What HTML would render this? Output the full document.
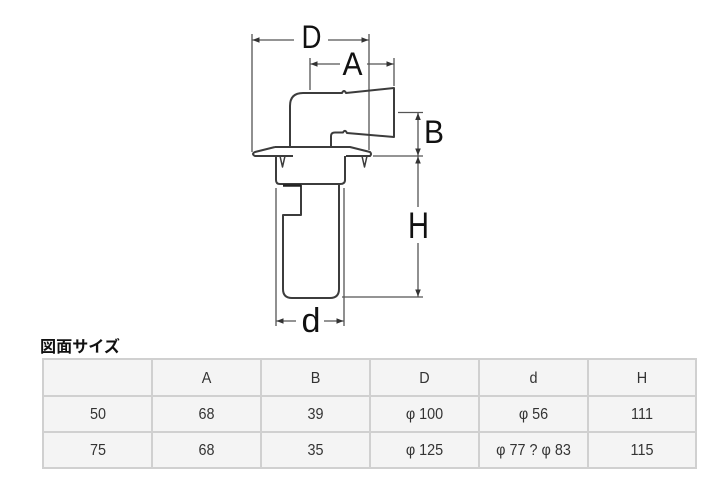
<!DOCTYPE html>
<html><head><meta charset="utf-8"><style>
html,body{margin:0;padding:0;background:#fff;}
svg{display:block;}
</style></head><body>
<svg width="720" height="496" viewBox="0 0 720 496" xmlns="http://www.w3.org/2000/svg">
<defs>
<marker id="ar" viewBox="0 0 10 10" refX="10" refY="5" markerWidth="7" markerHeight="7" orient="auto-start-reverse" markerUnits="userSpaceOnUse">
<path d="M0,1 L10,5 L0,9 z" fill="#333"/>
</marker>
</defs>
<g fill="none" stroke="#555" stroke-width="1.3">
<!-- D -->
<line x1="252" y1="34" x2="252" y2="152"/>
<line x1="369" y1="34" x2="369" y2="150"/>
<line x1="294" y1="40" x2="252.5" y2="40" marker-end="url(#ar)"/>
<line x1="328" y1="40" x2="368.5" y2="40" marker-end="url(#ar)"/>
<!-- A -->
<line x1="310" y1="58" x2="310" y2="90"/>
<line x1="394" y1="58" x2="394" y2="86"/>
<line x1="340" y1="64" x2="310.5" y2="64" marker-end="url(#ar)"/>
<line x1="367" y1="64" x2="393.5" y2="64" marker-end="url(#ar)"/>
<!-- B -->
<line x1="398" y1="112.5" x2="423" y2="112.5"/>
<line x1="373" y1="156" x2="423" y2="156"/>
<line x1="418" y1="134" x2="418" y2="113" marker-end="url(#ar)"/>
<line x1="418" y1="134" x2="418" y2="155.5" marker-end="url(#ar)"/>
<!-- H -->
<line x1="418" y1="207" x2="418" y2="156.5" marker-end="url(#ar)"/>
<line x1="418" y1="243" x2="418" y2="296.5" marker-end="url(#ar)"/>
<line x1="342" y1="297" x2="423" y2="297"/>
<!-- d -->
<line x1="276" y1="188" x2="276" y2="326"/>
<line x1="344" y1="188" x2="344" y2="326"/>
<line x1="296" y1="321" x2="276.5" y2="321" marker-end="url(#ar)"/>
<line x1="324" y1="321" x2="343.5" y2="321" marker-end="url(#ar)"/>
</g>
<g fill="none" stroke="#3c3c3c" stroke-width="2" stroke-linejoin="round">
<!-- elbow outer -->
<path d="M290,147 L290,106 Q290,93 303,93 L342,93 Q344,89 346,93 L394,88 L394,137 L347,133 Q345,129 343,132.5 L335,132.5 Q331,132.5 331,136 L331,147"/>
<!-- flange -->
<path d="M275,147 L350,147 L370,152 Q372,154 370,156 L346,156"/>
<path d="M275,147 L255,152 Q251,154 255,156 L293,156"/>
<!-- socket body -->
<path d="M276,156 L276,180 Q276,184 280,184 L340,184 Q345,184 345,180 L345,156"/>
<!-- barbs -->
<path d="M280,156 L282.5,167 L285,156" stroke-width="1.5"/>
<path d="M362,156 L364.5,167 L367,156" stroke-width="1.5"/>
<!-- inner pipe -->
<path d="M301,185 L301,215 L283,215 L283,289 Q283,298 292,298 L330,298 Q339,298 339,289 L339,185"/>
<line x1="283" y1="185.5" x2="301" y2="185.5" stroke-width="2.5" stroke="#222"/>
</g>
<g font-family="'Liberation Sans', sans-serif" fill="#111">
<text x="311.5" y="48" font-size="32" text-anchor="middle" textLength="20" lengthAdjust="spacingAndGlyphs">D</text>
<text x="352.5" y="75" font-size="32" text-anchor="middle" textLength="20" lengthAdjust="spacingAndGlyphs">A</text>
<text x="434" y="143" font-size="32" text-anchor="middle" textLength="20" lengthAdjust="spacingAndGlyphs">B</text>
<text x="418.5" y="238" font-size="37" text-anchor="middle" textLength="21" lengthAdjust="spacingAndGlyphs">H</text>
<text x="311" y="332" font-size="34" text-anchor="middle" textLength="19" lengthAdjust="spacingAndGlyphs">d</text>
</g>
<!-- title -->
<text x="40" y="352" font-family="'Liberation Sans','Noto Sans CJK JP',sans-serif" font-size="16" font-weight="bold" fill="#111" textLength="80" lengthAdjust="spacingAndGlyphs">図面サイズ</text>
<!-- table -->
<rect x="43" y="359" width="653" height="109" fill="#f4f4f4" stroke="#d0d0d0" stroke-width="2"/>
<g stroke="#d0d0d0" stroke-width="2">
<line x1="43" y1="396" x2="696" y2="396"/>
<line x1="43" y1="432" x2="696" y2="432"/>
<line x1="152" y1="359" x2="152" y2="468"/>
<line x1="261" y1="359" x2="261" y2="468"/>
<line x1="370" y1="359" x2="370" y2="468"/>
<line x1="479" y1="359" x2="479" y2="468"/>
<line x1="588" y1="359" x2="588" y2="468"/>
</g>
<g font-family="'Liberation Sans','Noto Sans CJK JP',sans-serif" font-size="16" fill="#333" text-anchor="middle">
<g transform="translate(206.5,383) scale(0.9,1)"><text>A</text></g>
<g transform="translate(315.5,383) scale(0.9,1)"><text>B</text></g>
<g transform="translate(424.5,383) scale(0.9,1)"><text>D</text></g>
<g transform="translate(533.5,383) scale(0.9,1)"><text>d</text></g>
<g transform="translate(642,383) scale(0.9,1)"><text>H</text></g>

<g transform="translate(98,419) scale(0.9,1)"><text>50</text></g>
<g transform="translate(206.5,419) scale(0.9,1)"><text>68</text></g>
<g transform="translate(315.5,419) scale(0.9,1)"><text>39</text></g>
<g transform="translate(424.5,419) scale(0.9,1)"><text>φ 100</text></g>
<g transform="translate(533.5,419) scale(0.9,1)"><text>φ 56</text></g>
<g transform="translate(642,419) scale(0.9,1)"><text>111</text></g>

<g transform="translate(98,455) scale(0.9,1)"><text>75</text></g>
<g transform="translate(206.5,455) scale(0.9,1)"><text>68</text></g>
<g transform="translate(315.5,455) scale(0.9,1)"><text>35</text></g>
<g transform="translate(424.5,455) scale(0.9,1)"><text>φ 125</text></g>
<g transform="translate(533.5,455) scale(0.9,1)"><text>φ 77 ?  φ 83</text></g>
<g transform="translate(642,455) scale(0.9,1)"><text>115</text></g>
</g>
</svg>
</body></html>
